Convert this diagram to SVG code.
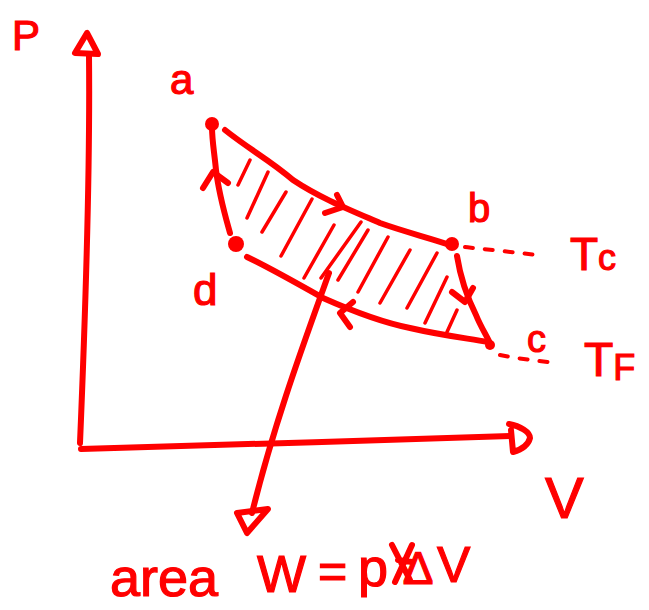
<svg xmlns="http://www.w3.org/2000/svg" width="649" height="610" viewBox="0 0 649 610">
<style>
.s{fill:none;stroke:#ff0000;stroke-width:6;stroke-linecap:round;stroke-linejoin:round}
.h{fill:none;stroke:#ff0000;stroke-width:3.5;stroke-linecap:round}
.d{fill:none;stroke:#ff0000;stroke-width:4;stroke-linecap:round;stroke-dasharray:8 12}
.t{fill:#ff0000;stroke:#ff0000;stroke-width:1.2;font-family:"Liberation Sans","DejaVu Sans",sans-serif}
.dot{fill:#ff0000}
</style>
<rect width="649" height="610" fill="#ffffff"/>
<g id="axes">
<path class="s" d="M89,56 C90,150 86,300 80,443"/>
<path class="s" d="M87,33 L75,53 L98,54 Z"/>
<path class="s" d="M81,449 C200,446 380,440 510,436"/>
<path class="s" d="M509,424 C520,426 530,432 530,438 C528,446 520,450 513,452 L511,430"/>
<text class="t" x="12" y="50" font-size="42">P</text>
<text class="t" x="545" y="518" font-size="58">V</text>
</g>
<g id="hatch">
<path class="h" d="M238,185 L250,160 M247,218 L268,172 M262,232 L286,192 M281,256 L312,199 M304,278 L334,225 M321,278 L361,222 M338,280 L368,230 M358,292 L388,237 M380,303 L410,250 M407,308 L437,253 M425,323 L447,277 M447,332 L457,310"/>
</g>
<g id="connectors">
<path class="s" d="M225,130 C250,150 270,160 293,180 C320,198 350,210 380,223 C405,232 430,238 450,245"/>
<path class="s" d="M247,257 C270,268 300,285 323,298 C350,310 380,322 410,328 C440,335 465,338 488,342"/>
<path class="s" d="M230,233 C225,215 219,195 216,170 C214,150 212,140 212,127"/>
<path class="s" d="M457,256 C460,275 466,295 476,315 C480,325 485,333 489,341"/>
<path class="s" d="M203,188 L213,172 L228,183"/>
<path class="s" d="M325,213 L343,207 L337,195"/>
<path class="s" d="M452,292 L465,302 L473,288"/>
<path class="s" d="M353,302 L340,313 L350,327"/>
<path class="d" d="M465,247 C490,250 515,252 543,256"/>
<path class="d" d="M500,355 C515,358 530,360 548,362"/>
<path class="s" d="M329,273 C305,340 275,420 252,513"/>
<path class="s" d="M237,513 L268,509 L247,533 Z"/>
</g>
<g id="a">
<circle class="dot" cx="212" cy="124" r="7"/>
<text class="t" x="170" y="94" font-size="42">a</text>
</g>
<g id="b">
<circle class="dot" cx="452" cy="244" r="7"/>
<text class="t" x="468" y="222" font-size="40">b</text>
</g>
<g id="c">
<circle class="dot" cx="490" cy="345" r="5"/>
<text class="t" x="527" y="352" font-size="38">c</text>
</g>
<g id="d">
<circle class="dot" cx="236" cy="244" r="8"/>
<text class="t" x="193" y="305" font-size="44">d</text>
</g>
<g id="Tc">
<text class="t" x="570" y="270" font-size="46">T<tspan font-size="36">c</tspan></text>
</g>
<g id="TF">
<text class="t" x="584" y="376" font-size="48">T<tspan font-size="36" dy="4">F</tspan></text>
</g>
<g id="label">
<text class="t" x="110" y="596" font-size="54">area<tspan x="257" y="592" font-size="52">W</tspan><tspan x="318" y="588" font-size="50">=</tspan><tspan x="358" y="586" font-size="54">p</tspan><tspan x="404" y="584" font-size="46">∆</tspan><tspan x="437" y="582" font-size="50">V</tspan></text>
<path class="s" d="M392,545 L410,580 M412,545 L395,582 M398,560 L412,562"/>
</g>
</svg>
